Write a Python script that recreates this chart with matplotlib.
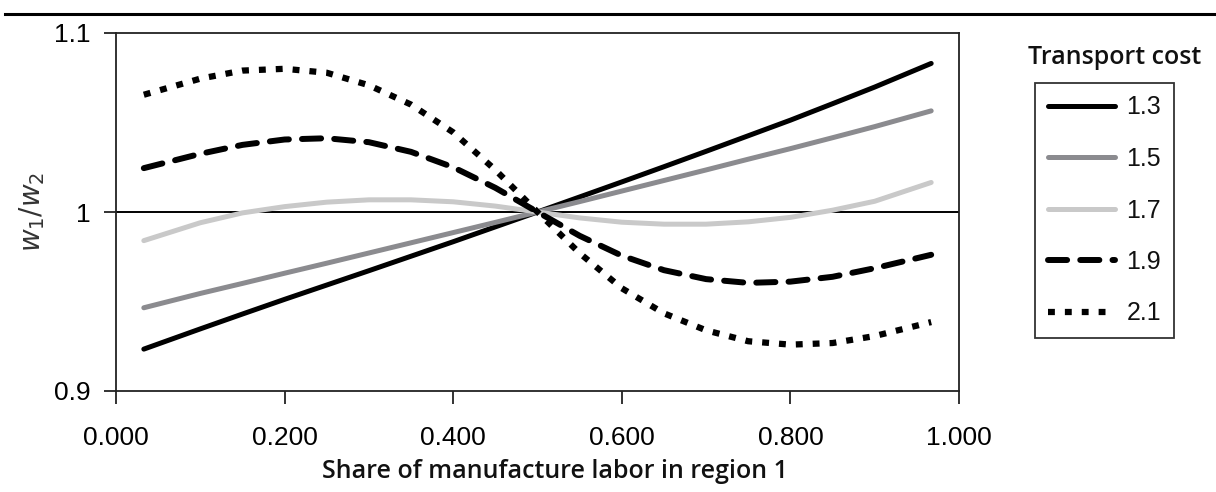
import matplotlib
matplotlib.use("Agg")
import matplotlib.pyplot as plt
from matplotlib.lines import Line2D

# share of manufacture labor in region 1
share = [0.033, 0.10, 0.15, 0.20, 0.25, 0.30, 0.35, 0.40, 0.45, 0.50,
         0.55, 0.60, 0.65, 0.70, 0.75, 0.80, 0.85, 0.90, 0.967]

# w1/w2 fuer jede transportkosten-stufe
tc_13 = [0.9234, 0.9347, 0.9430, 0.9512, 0.9592, 0.9672, 0.9753, 0.9834, 0.9917, 1.000,
         1.0084, 1.0168, 1.0253, 1.0339, 1.0426, 1.0513, 1.0605, 1.0698, 1.0830]
tc_15 = [0.9465, 0.9545, 0.9601, 0.9658, 0.9714, 0.9771, 0.9828, 0.9885, 0.9942, 1.000,
         1.0058, 1.0117, 1.0176, 1.0235, 1.0295, 1.0354, 1.0415, 1.0477, 1.0565]
tc_17 = [0.9840, 0.9940, 0.9995, 1.0030, 1.0055, 1.0068, 1.0068, 1.0057, 1.0033, 1.000,
         0.9967, 0.9943, 0.9932, 0.9932, 0.9945, 0.9970, 1.0010, 1.0060, 1.0165]
tc_19 = [1.0245, 1.0325, 1.0375, 1.0405, 1.0412, 1.0390, 1.0336, 1.0250, 1.0135, 1.000,
         0.9867, 0.9756, 0.9675, 0.9625, 0.9604, 0.9611, 0.9638, 0.9686, 0.9761]
tc_21 = [1.0655, 1.0745, 1.0790, 1.0800, 1.0778, 1.0708, 1.0600, 1.0445, 1.0235, 1.000,
         0.9770, 0.9574, 0.9434, 0.9339, 0.9278, 0.9259, 0.9268, 0.9307, 0.9385]

labels = ['1.3', '1.5', '1.7', '1.9', '2.1']
xticks = [0.0, 0.2, 0.4, 0.6, 0.8, 1.0]
xtick_labels = ['0.000', '0.200', '0.400', '0.600', '0.800', '1.000']
yticks = [0.9, 1.0, 1.1]
ytick_labels = ['0.9', '1', '1.1']

fig = plt.figure(figsize=(12.16, 4.92), dpi=100)
ax = fig.add_axes([116/1216, 1-391/492, (959-116)/1216, (391-33)/492])

ax.axhline(1.0, color='black', linewidth=1.4, zorder=1)

ax.plot(share, tc_13, color='black', linewidth=3.6, label=labels[0], solid_capstyle='round')
ax.plot(share, tc_15, color='#8b8b8f', linewidth=3.6, label=labels[1], solid_capstyle='round')
ax.plot(share, tc_17, color='#c9c9c9', linewidth=3.6, label=labels[2], solid_capstyle='round')
ax.plot(share, tc_19, color='black', linewidth=4.3, label=labels[3], dashes=(3.2, 2.2),
        dash_capstyle='round')
ax.plot(share, tc_21, color='black', linewidth=4.5, label=labels[4], dashes=(1.1, 1.6))

ax.set_xlim(0, 1)
ax.set_ylim(0.9, 1.1)
ax.set_xticks(xticks)
ax.set_xticklabels(xtick_labels)
ax.set_yticks(yticks)
ax.set_yticklabels(ytick_labels)

for s in ax.spines.values():
    s.set_linewidth(1.3)
    s.set_color('#222222')

ax.tick_params(axis='both', direction='out', length=9, width=1.3, color='#222222',
               labelsize=19, labelcolor='black')
ax.tick_params(axis='x', pad=16)
ax.tick_params(axis='y', pad=9)
for t in ax.get_xticklabels() + ax.get_yticklabels():
    t.set_fontfamily(['Liberation Sans', 'DejaVu Sans'])

ax.set_ylabel(r'$\mathit{w}_{\mathrm{1}}/\mathit{w}_{\mathrm{2}}$', fontsize=20,
              color='#333333', labelpad=5)

fig.text(555/1216, 1-472/492, 'Share of manufacture labor in region 1',
         ha='center', va='center', fontsize=18, fontfamily='Open Sans',
         fontweight='semibold', color='#111111')

# legende mit titel oberhalb des rahmens
fig.text(1115/1216, 1-57/492, 'Transport cost', ha='center', va='center',
         fontsize=18, fontfamily='Open Sans', fontweight='semibold', color='#111111')
leg = ax.legend(loc='upper left', bbox_to_anchor=(1035/1216, 1-83/492),
                bbox_transform=fig.transFigure, fontsize=18, frameon=True,
                fancybox=False, edgecolor='black', handlelength=2.7,
                handletextpad=0.45, labelspacing=1.1, borderpad=0.5,
                borderaxespad=0)
leg.get_frame().set_linewidth(1.3)
for t in leg.get_texts():
    t.set_fontfamily(['Liberation Sans', 'DejaVu Sans'])
    t.set_color('#111111')

# linie ganz oben
fig.add_artist(Line2D([5/1216, 1.0], [1-14/492, 1-14/492], color='black',
                      linewidth=2.2, transform=fig.transFigure))

plt.savefig('out.png', dpi=100)
